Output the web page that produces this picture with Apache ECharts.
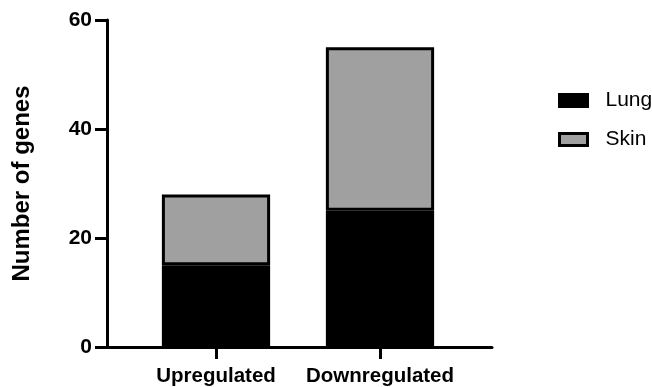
<!DOCTYPE html>
<html><head><meta charset="utf-8">
<script src="https://cdn.jsdelivr.net/npm/echarts@6/dist/echarts.min.js"></script>
<style>html,body{margin:0;padding:0;background:#fff}#c{width:652px;height:387px}</style>
</head><body><div id="c"></div>
<script>
const categories = ['Upregulated', 'Downregulated'];
const lungValues = [15, 25];
const skinValues = [13, 30];
const yTicks = [0, 20, 40, 60];
const seriesNames = ['Lung', 'Skin'];

const FONT = "'Liberation Sans', Arial, sans-serif";
const chart = echarts.init(document.getElementById('c'), null, {renderer: 'canvas'});
chart.setOption({
  animation: false,
  backgroundColor: '#fff',
  grid: [
    {left: 107, top: 20, width: 385, height: 327, containLabel: false},
    {left: 134, top: 20, width: 328, height: 327, containLabel: false}
  ],
  xAxis: [
    {gridIndex: 0, type: 'value', min: 0, max: 1, axisLine: {show: true, onZero: false, lineStyle: {color: '#000', width: 3}},
     axisTick: {show: false}, axisLabel: {show: false}, splitLine: {show: false}},
    {gridIndex: 1, type: 'category', data: categories,
     axisLine: {show: false},
     axisTick: {show: true, interval: 0, alignWithLabel: true, length: 12, lineStyle: {color: '#000', width: 3}},
     axisLabel: {interval: 0, hideOverlap: false, color: '#000', fontFamily: FONT, fontWeight: 'bold', fontSize: 20.5, margin: 19}}
  ],
  yAxis: [
    {gridIndex: 0, type: 'value', min: yTicks[0], max: yTicks[yTicks.length-1], interval: 20,
     name: 'Number of genes', nameLocation: 'middle', nameGap: 73,
     nameTextStyle: {color: '#000', fontFamily: FONT, fontWeight: 'bold', fontSize: 24},
     axisLine: {show: true, lineStyle: {color: '#000', width: 3}},
     axisTick: {show: true, length: 12, lineStyle: {color: '#000', width: 3}},
     axisLabel: {color: '#000', fontFamily: FONT, fontWeight: 'bold', fontSize: 21, margin: 15},
     splitLine: {show: false}},
    {gridIndex: 1, type: 'value', min: yTicks[0], max: yTicks[yTicks.length-1], interval: 20, show: false}
  ],
  legend: {
    orient: 'vertical', left: 553, top: 85, itemWidth: 28, itemHeight: 12, itemGap: 18,
    icon: 'rect',
    itemStyle: {borderColor: '#000', borderWidth: 3},
    textStyle: {color: '#000', fontFamily: FONT, fontSize: 21, padding: [0, 0, 0, 13]},
    data: seriesNames
  },
  series: [
    {name: seriesNames[0], type: 'bar', stack: 's', xAxisIndex: 1, yAxisIndex: 1, barWidth: '66%',
     data: lungValues, itemStyle: {color: '#000', borderColor: '#000', borderWidth: 3}},
    {name: seriesNames[1], type: 'bar', stack: 's', xAxisIndex: 1, yAxisIndex: 1, barWidth: '66%',
     data: skinValues, itemStyle: {color: '#a0a0a0', borderColor: '#000', borderWidth: 3}}
  ]
});
</script></body></html>
